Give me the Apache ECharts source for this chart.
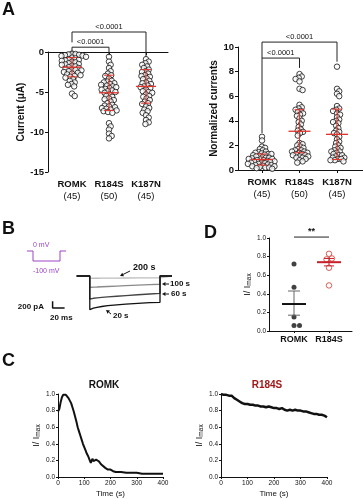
<!DOCTYPE html>
<html><head><meta charset="utf-8">
<script src="https://cdn.jsdelivr.net/npm/echarts@6/dist/echarts.min.js"></script>
<style>html,body{margin:0;padding:0;background:#fff;}#c{width:363px;height:499px;}</style>
</head><body><div id="c"></div>
<script>
// ================= DATA =================
const groupsA = ['ROMK', 'R184S', 'K187N'];
const countsA = [45, 50, 45];
const currentTicks = [0, -5, -10, -15];
const currentROMK = [-0.2,-0.25,-0.3,-0.35,-0.4,-0.45,-0.5,-0.6,-0.7,-0.8,-0.9,-1.0,-1.05,-1.1,-1.2,-1.3,-1.4,-1.5,
  -1.6,-1.7,-1.8,-1.9,-2.0,-2.1,-2.2,-2.3,-2.4,-2.5,-2.6,-2.7,-2.8,-2.9,-3.0,-3.1,-3.2,-1.55,-2.25,
  -3.4,-3.6,-3.8,-4.0,-4.1,-4.3,-5.2,-5.5];
const currentR184S = [-0.6,-1.2,-1.6,-2.0,-2.4,-2.7,-2.9,-3.0,
  -3.6,-3.7,-3.8,-3.9,-4.0,-4.1,-4.2,-4.3,-4.4,-4.5,-4.6,-4.7,-4.8,-4.9,-5.0,
  -5.1,-5.3,-5.5,-5.6,-5.8,-6.0,-6.2,-6.4,-6.6,-6.7,-6.8,-6.9,-7.0,
  -7.1,-7.2,-7.3,-7.4,-7.5,-7.6,-3.3,-5.9,
  -8.9,-9.3,-9.7,-10.2,-10.5,-10.8];
const currentK187N = [-0.9,-1.2,-1.4,-1.6,-1.8,-2.0,-2.2,-2.4,-2.5,-2.7,-2.9,
  -3.1,-3.3,-3.4,-3.6,-3.8,-3.9,-4.0,-4.2,-4.3,-4.4,-4.5,
  -4.7,-4.9,-5.1,-5.3,-5.5,-5.6,-5.8,-6.0,-6.2,-6.4,-6.5,
  -6.8,-7.0,-7.2,-7.4,-7.6,-7.9,-8.2,-8.5,-8.8,-9.0,-3.0,-5.0];
const currentMean = [-1.9, -5.1, -4.3];
const currentSDlow = [-3.1, -7.3, -6.4];
const currentSDhigh = [-0.7, -2.9, -2.2];

const normROMK = [0.1,0.15,0.2,0.2,0.25,0.3,0.3,0.35,0.4,0.4,0.45,0.5,0.5,0.55,0.6,0.6,0.65,0.7,0.7,0.75,
  0.8,0.8,0.85,0.9,0.9,0.95,1.0,1.0,1.05,1.1,1.15,1.2,1.25,1.3,1.35,1.4,1.45,1.5,1.6,1.7,1.8,1.9,1.3,2.4,2.7];
const normR184S = [0.6,0.7,0.8,0.9,1.0,1.0,1.1,1.1,1.2,1.2,1.3,1.3,1.4,1.4,1.5,1.5,1.6,1.6,1.7,1.8,1.9,2.0,2.1,2.2,
  2.8,3.0,3.1,3.2,3.3,3.5,3.7,3.9,
  4.0,4.2,4.4,4.5,4.6,4.8,4.9,5.0,5.1,5.3,
  6.5,6.6,7.2,7.4,7.5,7.6,7.8,4.7];
const normK187N = [0.7,0.8,0.9,0.9,1.0,1.0,1.1,1.2,1.3,1.4,1.5,1.5,1.6,1.7,1.8,1.9,2.0,2.2,2.3,2.5,
  2.7,2.9,3.0,3.2,3.4,3.6,3.8,3.9,
  4.0,4.1,4.3,4.5,4.6,4.8,5.0,5.2,
  6.0,6.2,6.4,6.6,8.4,0.8,1.2,3.1,4.9];
const normMean = [0.85, 3.15, 2.9];
const normSDlow = [0.4, 1.4, 0.85];
const normSDhigh = [1.3, 4.9, 4.95];
const pTexts = ['<0.0001', '<0.0001'];

// Panel B: current traces (time ms, current pA)
const traceTime = [-22, 0, 0, 2, 6, 12, 20, 30, 45, 60, 80, 100, 117, 117, 137];
const trace20s  = [0, 0, -1010, -990, -965, -940, -915, -890, -865, -845, -820, -800, -790, 0, 0];
const trace60s  = [0, 0, -690, -680, -668, -655, -642, -628, -608, -588, -563, -540, -522, 0, 0];
const trace100s = [0, 0, -345, -340, -335, -330, -323, -315, -303, -291, -276, -260, -248, 0, 0];
const trace200s = [0, 0, -70, -69, -68, -67, -66, -64, -62, -60, -57, -55, -53, 0, 0];
const scaleBarPA = 200, scaleBarMS = 20;

// Panel D
const groupsD = ['ROMK', 'R184S'];
const ratioROMK = [0.72, 0.47, 0.15, 0.06, 0.06];
const ratioR184S = [0.83, 0.78, 0.77, 0.68, 0.49];
const ratioMean = [0.29, 0.74];
const ratioSEMlow = [0.17, 0.70];
const ratioSEMhigh = [0.43, 0.78];
const sigText = ['**'];

// Panel C
const romkTime = [0,5,10,15,20,25,30,35,40,45,50,55,60,65,70,75,80,85,90,95,100,105,110,115,120,125,128,131,135,140,145,150,155,160,165,170,180,190,200,210,220,240,260,280,300,320,340,360,380,400];
const romkRatio = [0.79,0.82,0.9,0.96,0.99,1.0,0.99,0.98,0.95,0.92,0.89,0.84,0.79,0.73,0.67,0.6,0.55,0.5,0.45,0.4,0.36,0.32,0.28,0.25,0.21,0.17,0.16,0.22,0.19,0.2,0.21,0.2,0.19,0.17,0.15,0.13,0.11,0.09,0.09,0.07,0.06,0.06,0.05,0.05,0.05,0.04,0.04,0.04,0.04,0.04];
const r184sTime = [0,10,20,30,35,40,45,50,55,60,65,70,75,80,90,100,110,120,130,140,150,160,170,180,190,200,210,220,230,240,250,260,270,280,290,300,310,320,330,340,350,360,370,380,390,400];
const r184sRatio = [1.0,0.99,0.99,0.98,0.99,0.98,0.96,0.95,0.94,0.93,0.92,0.91,0.9,0.89,0.88,0.88,0.87,0.87,0.86,0.86,0.85,0.85,0.84,0.85,0.84,0.83,0.83,0.82,0.83,0.81,0.80,0.81,0.80,0.81,0.80,0.80,0.79,0.79,0.78,0.77,0.76,0.76,0.75,0.75,0.74,0.72];

// ================= RENDER =================
const F = "'Liberation Sans', Arial, sans-serif";
const RED = '#e0352b';
const PURPLE = '#9b45c6';
const chart = echarts.init(document.getElementById('c'));

function zip(a, b) { return a.map((v, i) => [v, b[i]]); }
function swarm(vals, cx, pxX, pxY, d) {
  const order = vals.map((v, i) => i).sort((a, b) => vals[b] - vals[a]);
  const placed = [], out = [];
  order.forEach(i => {
    const py = vals[i] * pxY;
    const near = placed.filter(p => Math.abs(p.y - py) < d);
    const cands = [0];
    near.forEach(p => { const dx = Math.sqrt(d * d - (p.y - py) * (p.y - py)); cands.push(p.x + dx, p.x - dx); });
    cands.sort((a, b) => Math.abs(a) - Math.abs(b));
    let x = 0;
    for (const c of cands) {
      if (near.every(p => (p.x - c) * (p.x - c) + (p.y - py) * (p.y - py) >= d * d - 0.01)) { x = c; break; }
    }
    placed.push({ x: x, y: py });
    out.push([cx + x / pxX, vals[i]]);
  });
  return out;
}
function errBars(color, half, cap, meanW, barColor) {
  return function (params, api) {
    const x = api.value(0);
    const c = api.coord([x, api.value(1)]);
    const lo = api.coord([x, api.value(2)]);
    const hi = api.coord([x, api.value(3)]);
    const st = { stroke: barColor || color, lineWidth: 1 };
    return { type: 'group', children: [
      { type: 'line', shape: { x1: lo[0], y1: lo[1], x2: hi[0], y2: hi[1] }, style: st },
      { type: 'line', shape: { x1: lo[0] - cap, y1: lo[1], x2: lo[0] + cap, y2: lo[1] }, style: st },
      { type: 'line', shape: { x1: hi[0] - cap, y1: hi[1], x2: hi[0] + cap, y2: hi[1] }, style: st },
      { type: 'line', shape: { x1: c[0] - half, y1: c[1], x2: c[0] + half, y2: c[1] }, style: { stroke: color, lineWidth: meanW } }
    ] };
  };
}
function brackets(texts, fs, bold) {
  return function (params, api) {
    const x1 = api.value(0), x2 = api.value(1), yt = api.value(2), y1 = api.value(3), y2 = api.value(4);
    const a = api.coord([x1, y1]), b = api.coord([x1, yt]), c = api.coord([x2, yt]), d = api.coord([x2, y2]);
    return { type: 'group', children: [
      { type: 'polyline', shape: { points: [a, b, c, d] }, style: { stroke: '#222', lineWidth: 1, fill: null } },
      { type: 'text', x: (b[0] + c[0]) / 2, y: b[1] - 1, style: { text: texts[params.dataIndex], align: 'center', verticalAlign: 'bottom', fontSize: fs, fontFamily: F, fontWeight: bold ? 'bold' : 'normal', fill: '#111' } }
    ] };
  };
}
function statRows(m, lo, hi, xs) { return m.map((v, i) => [xs[i], v, lo[i], hi[i]]); }

const axLine = { lineStyle: { color: '#111', width: 1 } };
function catLabel(names, counts) {
  return function (v) {
    const i = Math.round(v) - 1;
    return counts ? '{b|' + names[i] + '}\n{n|(' + counts[i] + ')}' : '{b|' + names[i] + '}';
  };
}
const catRich = {
  b: { fontFamily: F, fontWeight: 'bold', fontSize: 9.5, color: '#111', lineHeight: 12 },
  n: { fontFamily: F, fontSize: 9.5, color: '#111', lineHeight: 12 }
};
const imaxName = { rich: { i: { fontFamily: F, fontSize: 9, color: '#111' }, s: { fontFamily: F, fontSize: 6.5, color: '#111', verticalAlign: 'bottom', padding: [5, 0, 0, 0] } } };

// geometry (layout, in data units)
const bracketGeomL = [[1, 3, 2.5, 1.2, -0.6], [1, 2, 0.6, 0.0, -0.4]];
const bracketGeomR = [[1, 3, 10.4, 9.1, 8.8], [1, 2, 9.1, 3.0, 8.3]];
const bracketGeomD = [[1, 2, 1.01, 1.01, 1.01]];
const barX = -62, barY = -960;

function yAxisSmall(grid, gap) {
  return { gridIndex: grid, type: 'value', min: 0, max: 1, interval: 0.2, axisLine: { show: true, lineStyle: { color: '#111' } },
    axisTick: { show: true, length: 2, lineStyle: { color: '#111' } }, splitLine: { show: false },
    axisLabel: { fontFamily: F, fontSize: 6.5, color: '#111', margin: 3, formatter: v => v.toFixed(1) },
    name: '{i|I/ I}{s|max}', nameLocation: 'middle', nameGap: gap, nameTextStyle: imaxName };
}
function xAxisTime(grid) {
  return { gridIndex: grid, type: 'value', min: 0, max: 400, interval: 100, axisLine: axLine, splitLine: { show: false },
    axisTick: { length: 2, lineStyle: { color: '#111' } },
    axisLabel: { fontFamily: F, fontSize: 6.5, color: '#111', margin: 3 },
    name: 'Time (s)', nameLocation: 'middle', nameGap: 13, nameTextStyle: { fontFamily: F, fontSize: 8, color: '#111' } };
}

const option = {
  animation: false,
  grid: [
    { left: 48, top: 52, width: 120, height: 120 },
    { left: 238, top: 47, width: 125, height: 123 },
    { left: 40, top: 266, width: 132, height: 50 },
    { left: 269, top: 238, width: 83, height: 93 },
    { left: 58, top: 394, width: 105, height: 83 },
    { left: 221, top: 394, width: 106, height: 83 }
  ],
  xAxis: [
    { gridIndex: 0, type: 'value', min: 0.351, max: 3.595, axisLine: axLine, splitLine: { show: false },
      axisTick: { customValues: [1, 2, 3], length: 3, lineStyle: { color: '#111' } },
      axisLabel: { customValues: [1, 2, 3], formatter: catLabel(groupsA, countsA), rich: catRich, margin: 6 } },
    { gridIndex: 1, type: 'value', min: 0.36, max: 3.693, axisLine: axLine, splitLine: { show: false },
      axisTick: { customValues: [1, 2, 3], length: 3, lineStyle: { color: '#111' } },
      axisLabel: { customValues: [1, 2, 3], formatter: catLabel(groupsA, countsA), rich: catRich, margin: 6 } },
    { gridIndex: 2, type: 'value', min: -83, max: 137, show: false },
    { gridIndex: 3, type: 'value', min: 0.2857, max: 2.657, axisLine: axLine, splitLine: { show: false },
      axisTick: { customValues: [1, 2], length: 2, lineStyle: { color: '#111' } },
      axisLabel: { customValues: [1, 2], formatter: catLabel(groupsD), rich: { b: { fontFamily: F, fontWeight: 'bold', fontSize: 9, color: '#111' } }, margin: 4 } },
    xAxisTime(4), xAxisTime(5)
  ],
  yAxis: [
    { gridIndex: 0, type: 'value', min: -15, max: 0, interval: 5, axisLine: { show: true, lineStyle: { color: '#111' } },
      axisTick: { show: true, length: 3, lineStyle: { color: '#111' } }, splitLine: { show: false },
      axisLabel: { fontFamily: F, fontSize: 9.5, fontWeight: 'bold', color: '#111', margin: 4 },
      name: 'Current (μA)', nameLocation: 'middle', nameGap: 15, nameTextStyle: { fontFamily: F, fontSize: 10, fontWeight: 'bold', color: '#111' } },
    { gridIndex: 1, type: 'value', min: 0, max: 10, interval: 2, axisLine: { show: true, lineStyle: { color: '#111' } },
      axisTick: { show: true, length: 3, lineStyle: { color: '#111' } }, splitLine: { show: false },
      axisLabel: { fontFamily: F, fontSize: 9.5, fontWeight: 'bold', color: '#111', margin: 4 },
      name: 'Normalized currents', nameLocation: 'middle', nameGap: 14, nameTextStyle: { fontFamily: F, fontSize: 10, fontWeight: 'bold', color: '#111' } },
    { gridIndex: 2, type: 'value', min: -1200, max: 300, show: false },
    yAxisSmall(3, 13), yAxisSmall(4, 14), yAxisSmall(5, 14)
  ],
  series: [],
  graphic: []
};

const openDot = { color: '#fff', borderColor: '#111', borderWidth: 1 };
// Panel A left
[currentROMK, currentR184S, currentK187N].forEach((arr, i) => {
  option.series.push({ type: 'scatter', xAxisIndex: 0, yAxisIndex: 0, symbol: 'circle', symbolSize: 5.5,
    itemStyle: openDot, data: swarm(arr, i + 1, 37, 8, 3.6), z: 2 });
});
option.series.push({ type: 'custom', xAxisIndex: 0, yAxisIndex: 0, renderItem: errBars(RED, 10, 5, 1.3), data: statRows(currentMean, currentSDlow, currentSDhigh, [1, 2, 3]), z: 5 });
option.series.push({ type: 'custom', xAxisIndex: 0, yAxisIndex: 0, renderItem: brackets(pTexts, 7.5, false), data: bracketGeomL, z: 5 });
// Panel A right
[normROMK, normR184S, normK187N].forEach((arr, i) => {
  option.series.push({ type: 'scatter', xAxisIndex: 1, yAxisIndex: 1, symbol: 'circle', symbolSize: 5.5,
    itemStyle: openDot, data: swarm(arr, i + 1, 37.5, 12.3, 3.3), z: 2 });
});
option.series.push({ type: 'custom', xAxisIndex: 1, yAxisIndex: 1, renderItem: errBars(RED, 11, 5, 1.3), data: statRows(normMean, normSDlow, normSDhigh, [1, 2, 3]), z: 5 });
option.series.push({ type: 'custom', xAxisIndex: 1, yAxisIndex: 1, renderItem: brackets(pTexts, 7.5, false), data: bracketGeomR, z: 5 });
// Panel B traces
[[trace200s, '#bdbdbd'], [trace100s, '#8a8a8a'], [trace60s, '#444'], [trace20s, '#111']].forEach(([tr, col]) => {
  option.series.push({ type: 'line', xAxisIndex: 2, yAxisIndex: 2, data: zip(traceTime, tr), showSymbol: false,
    lineStyle: { color: col, width: 1.3 }, z: 3 });
});
option.series.push({ type: 'line', xAxisIndex: 2, yAxisIndex: 2, showSymbol: false, lineStyle: { color: '#111', width: 1.5 },
  data: [[barX, barY + scaleBarPA], [barX, barY], [barX + scaleBarMS, barY]] });
// Panel D
option.series.push({ type: 'scatter', xAxisIndex: 3, yAxisIndex: 3, symbol: 'circle', symbolSize: 5, itemStyle: { color: '#111' }, data: swarm(ratioROMK, 1, 35, 93, 5.5) });
option.series.push({ type: 'scatter', xAxisIndex: 3, yAxisIndex: 3, symbol: 'circle', symbolSize: 5.5, itemStyle: { color: '#fff', borderColor: '#d03a2e', borderWidth: 1 }, data: swarm(ratioR184S, 2, 35, 93, 5.5) });
option.series.push({ type: 'custom', xAxisIndex: 3, yAxisIndex: 3, renderItem: errBars('#111', 12, 6, 2, '#666'), data: [[1, ratioMean[0], ratioSEMlow[0], ratioSEMhigh[0]]], z: 5 });
option.series.push({ type: 'custom', xAxisIndex: 3, yAxisIndex: 3, renderItem: errBars('#c8202a', 12, 5, 2), data: [[2, ratioMean[1], ratioSEMlow[1], ratioSEMhigh[1]]], z: 5 });
option.series.push({ type: 'custom', xAxisIndex: 3, yAxisIndex: 3, renderItem: brackets(sigText, 9, true), data: bracketGeomD, z: 5 });
// Panel C
option.series.push({ type: 'line', xAxisIndex: 4, yAxisIndex: 4, data: zip(romkTime, romkRatio), showSymbol: false, lineStyle: { color: '#111', width: 2 } });
option.series.push({ type: 'line', xAxisIndex: 5, yAxisIndex: 5, data: zip(r184sTime, r184sRatio), showSymbol: false, lineStyle: { color: '#111', width: 2.5 } });

// annotations
function txt(x, y, s, font, fill, align) {
  return { type: 'text', x: x, y: y, style: { text: s, font: font, fill: fill || '#111', align: align || 'left', verticalAlign: 'middle' } };
}
function arrow(x1, y1, x2, y2) {
  const a = Math.atan2(y2 - y1, x2 - x1), L = 3.5, W = 2;
  const bx = x2 - L * Math.cos(a), by = y2 - L * Math.sin(a);
  return [
    { type: 'line', shape: { x1: x1, y1: y1, x2: bx, y2: by }, style: { stroke: '#111', lineWidth: 1 } },
    { type: 'polygon', shape: { points: [[x2, y2], [bx - W * Math.sin(a), by + W * Math.cos(a)], [bx + W * Math.sin(a), by - W * Math.cos(a)]] }, style: { fill: '#111' } }
  ];
}
const BF = 'bold 18px ' + F;
option.graphic = [
  txt(2, 10, 'A', BF), txt(2, 229, 'B', BF), txt(2, 361, 'C', BF), txt(204, 233, 'D', BF),
  { type: 'polyline', shape: { points: [[27, 251], [33, 251], [33, 261], [60, 261], [60, 251], [66, 251]] }, style: { stroke: PURPLE, lineWidth: 1, fill: null } },
  txt(33, 245, '0 mV', '7px ' + F, PURPLE), txt(33, 271, '-100 mV', '7px ' + F, PURPLE),
  txt(133, 268, '200 s', 'bold 9px ' + F),
  ...arrow(130, 271, 120, 276),
  ...arrow(169, 284, 162, 284), txt(170, 284, '100 s', 'bold 8px ' + F),
  ...arrow(169, 294, 162, 294), txt(171, 294, '60 s', 'bold 8px ' + F),
  ...arrow(111, 314, 106, 310), txt(113, 316, '20 s', 'bold 8px ' + F),
  txt(44, 307, '200 pA', 'bold 8px ' + F, '#111', 'right'),
  txt(50, 318, '20 ms', 'bold 8px ' + F),
  txt(104, 385, 'ROMK', 'bold 10px ' + F, '#111', 'center'),
  txt(267, 385, 'R184S', 'bold 10px ' + F, '#a01818', 'center')
];
chart.setOption(option);
</script></body></html>
